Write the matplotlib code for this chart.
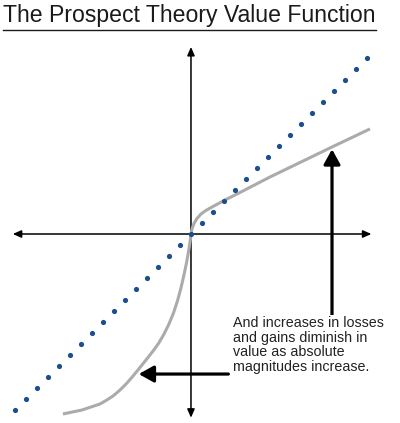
import matplotlib.pyplot as plt

# ── Data (units: one dot step) ─────────────────────────────────────────────
dot_x = [-16, -15, -14, -13, -12, -11, -10, -9, -8, -7, -6, -5, -4, -3, -2, -1, 0,
         1, 2, 3, 4, 5, 6, 7, 8, 9, 10, 11, 12, 13, 14, 15, 16]
dot_y = [-16, -15, -14, -13, -12, -11, -10, -9, -8, -7, -6, -5, -4, -3, -2, -1, 0,
         1, 2, 3, 4, 5, 6, 7, 8, 9, 10, 11, 12, 13, 14, 15, 16]

# losses (left of origin)
loss_x = [-11.64, -9.91, -8.27, -7.73, -7.09, -6.45, -5.82, -5.27, -4.64,
          -4.09, -3.45, -2.95, -2.45, -2.0, -1.59, -1.23, -0.91, -0.64,
          -0.41, -0.23, -0.09, 0.0]
loss_y = [-16.36, -16.0, -15.45, -15.14, -14.73, -14.18, -13.55, -12.91, -12.14,
          -11.45, -10.64, -9.95, -9.09, -8.18, -7.18, -6.09, -4.91, -3.73,
          -2.64, -1.64, -0.73, 0.0]
# gains (right of origin)
gain_x = [0.0, 0.09, 0.27, 0.55, 0.91, 1.36, 1.91, 3.09, 4.45, 7.18, 9.91,
          12.82, 16.27]
gain_y = [0.0, 0.45, 0.95, 1.41, 1.82, 2.14, 2.45, 3.09, 3.77, 5.18, 6.5,
          7.91, 9.55]

title = "The Prospect Theory Value Function"
note = ("And increases in losses\nand gains diminish in\n"
        "value as absolute\nmagnitudes increase.")

# ── Figure ────────────────────────────────────────────────────────────────
plt.rcParams["font.family"] = ["Liberation Sans", "DejaVu Sans"]

fig = plt.figure(figsize=(4.0, 4.23), dpi=100)
ax = fig.add_axes([0, 0, 1, 1])
ax.set_xlim(-17.36, 19.0)
ax.set_ylim(-17.18, 21.27)
ax.axis("off")

# axes with arrowheads
axis_arrow = dict(arrowstyle="-|>,head_length=0.5,head_width=0.22",
                  mutation_scale=10, lw=1.1, color="black",
                  shrinkA=0, shrinkB=0)
ax.annotate("", xy=(-16.2, 0), xytext=(0, 0), arrowprops=axis_arrow)
ax.annotate("", xy=(16.4, 0), xytext=(0, 0), arrowprops=axis_arrow)
ax.annotate("", xy=(0, 17.0), xytext=(0, 0), arrowprops=axis_arrow)
ax.annotate("", xy=(0, -16.7), xytext=(0, 0), arrowprops=axis_arrow)

# value function curve and the linear reference dots
ax.plot(loss_x + gain_x[1:], loss_y + gain_y[1:], color="#ababab", lw=2.2,
        solid_capstyle="butt", solid_joinstyle="round", zorder=3)
ax.scatter(dot_x, dot_y, s=14, color="#1b4f8c", zorder=4, linewidths=0)

# callout arrows
callout = dict(arrowstyle="-|>,head_length=0.45,head_width=0.25",
               mutation_scale=20, lw=2.3, color="black",
               shrinkA=0, shrinkB=0)
ax.annotate("", xy=(12.82, 7.7), xytext=(12.82, -7.6), arrowprops=callout,
            zorder=5)
ax.annotate("", xy=(-4.75, -12.73), xytext=(3.4, -12.73), arrowprops=callout,
            zorder=5)

ax.text(3.8, -7.45, note, ha="left", va="top", fontsize=10.3,
        color="#222222", linespacing=1.06, zorder=6,
        bbox=dict(facecolor="white", edgecolor="none", pad=0.5))

# underlined title
t = fig.text(0.008, 1 - 4 / 423, title, ha="left", va="top", fontsize=16.6,
             color="#1a1a1a")
fig.canvas.draw()
bb = t.get_window_extent().transformed(fig.transFigure.inverted())
uy = 1 - 30 / 423
fig.add_artist(plt.Line2D([bb.x0, bb.x1], [uy, uy], color="#1a1a1a",
                          lw=1.0, transform=fig.transFigure))

fig.savefig("out.png", dpi=100)
